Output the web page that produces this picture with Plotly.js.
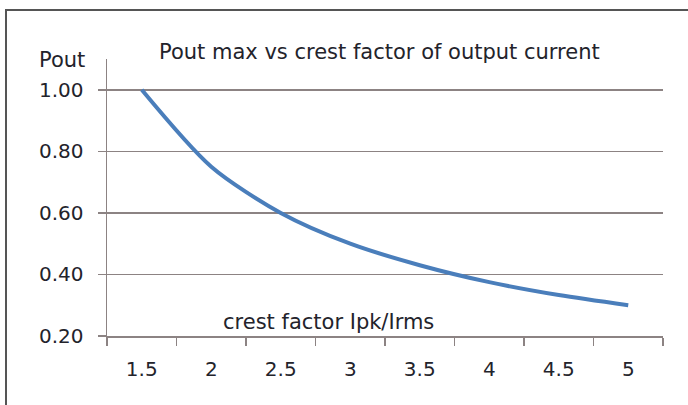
<!DOCTYPE html>
<html>
<head>
<meta charset="utf-8">
<script src="https://cdn.plot.ly/plotly-3.0.1.min.js"></script>
<style>
  html, body { margin: 0; padding: 0; background: #ffffff; }
  #frame { position: absolute; left: 5px; top: 9px; width: 700px; height: 420px;
           border-left: 2px solid #555555; border-top: 2px solid #555555; }
  #chart { position: absolute; left: 0; top: 0; width: 688px; height: 405px; }
</style>
</head>
<body>
<div id="frame"></div>
<div id="chart"></div>
<script>
// Data
const crestFactor = ["1.5", "2", "2.5", "3", "3.5", "4", "4.5", "5"];
const poutMax = [1.00, 0.75, 0.60, 0.50, 0.43, 0.375, 0.333, 0.30];
const yTickValues = [0.2, 0.4, 0.6, 0.8, 1.0];

const chartTitle = "Pout max vs crest factor of output current";
const yTitle = "Pout";
const xTitle = "crest factor Ipk/Irms";

const FONT = "DejaVu Sans, sans-serif";
const TEXT = "#23232b";
const AXIS = "#8c8383";

const trace = {
  x: crestFactor,
  y: poutMax,
  type: "scatter",
  mode: "lines",
  line: { color: "#4a7ebb", width: 4, shape: "spline", smoothing: 0.8 },
  hoverinfo: "skip"
};

const layout = {
  width: 688,
  height: 405,
  margin: { l: 107, r: 25, t: 59, b: 69 },
  paper_bgcolor: "rgba(0,0,0,0)",
  plot_bgcolor: "rgba(0,0,0,0)",
  showlegend: false,
  font: { family: FONT, color: TEXT, size: 20 },
  xaxis: {
    type: "category",
    range: [-0.5, crestFactor.length - 0.5],
    tickson: "boundaries",
    ticks: "outside",
    ticklen: 8,
    tickwidth: 1.5,
    tickcolor: AXIS,
    ticklabelstandoff: 14,
    showline: true,
    linecolor: AXIS,
    linewidth: 1.5,
    showgrid: false,
    zeroline: false,
    tickfont: { family: FONT, size: 20, color: TEXT },
    fixedrange: true
  },
  yaxis: {
    range: [0.2, 1.1],
    tickvals: yTickValues,
    tickformat: ".2f",
    ticks: "outside",
    ticklen: 8,
    tickwidth: 1.5,
    tickcolor: AXIS,
    ticklabelstandoff: 10,
    showline: true,
    linecolor: AXIS,
    linewidth: 1.5,
    showgrid: true,
    gridcolor: AXIS,
    gridwidth: 1.5,
    zeroline: false,
    tickfont: { family: FONT, size: 20, color: TEXT },
    fixedrange: true
  },
  annotations: [
    { text: chartTitle, xref: "paper", yref: "paper", x: 0.49, y: 1.025,
      xanchor: "center", yanchor: "middle", showarrow: false,
      font: { family: FONT, size: 21, color: TEXT } },
    { text: yTitle, xref: "paper", yref: "paper", x: -0.036, y: 0.996,
      xanchor: "right", yanchor: "middle", showarrow: false,
      font: { family: FONT, size: 21, color: TEXT } },
    { text: xTitle, xref: "paper", yref: "paper", x: 0.398, y: 0.052,
      xanchor: "center", yanchor: "middle", showarrow: false,
      font: { family: FONT, size: 21, color: TEXT } }
  ]
};

Plotly.newPlot("chart", [trace], layout, { displayModeBar: false, staticPlot: true });
</script>
</body>
</html>
